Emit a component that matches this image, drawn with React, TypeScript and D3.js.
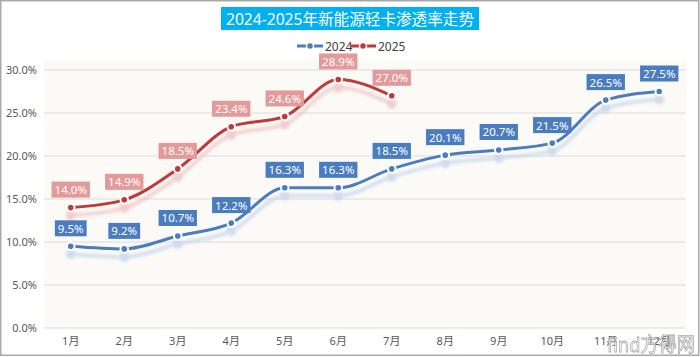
import React, { useEffect, useRef } from "react";
import * as d3 from "d3";

const months = ["1月", "2月", "3月", "4月", "5月", "6月", "7月", "8月", "9月", "10月", "11月", "12月"];
const series2024 = [9.5, 9.2, 10.7, 12.2, 16.3, 16.3, 18.5, 20.1, 20.7, 21.5, 26.5, 27.5];
const series2025 = [14.0, 14.9, 18.5, 23.4, 24.6, 28.9, 27.0];
const yTicks = [0, 5, 10, 15, 20, 25, 30];
const titleText = "2024-2025年新能源轻卡渗透率走势";
const seriesNames = ["2024", "2025"];

const W = 700;
const H = 357;
const FONT = "'Noto Sans', 'Noto Sans CJK SC', sans-serif";

export default function App() {
  const ref = useRef<SVGSVGElement | null>(null);

  useEffect(() => {
    const svg = d3.select(ref.current);
    svg.selectAll("*").remove();

    const left = 44, right = 686, top = 70, bottom = 328;
    const x = d3.scaleBand<string>().domain(months).range([left, right]);
    const y = d3.scaleLinear().domain([0, 30]).range([bottom, top]);
    const cx = (m: string) => (x(m) as number) + x.bandwidth() / 2;

    const defs = svg.append("defs");
    defs.append("filter").attr("id", "blur").attr("x", "-10%").attr("y", "-50%").attr("width", "120%").attr("height", "200%")
      .append("feGaussianBlur").attr("stdDeviation", 1.8);

    // outer background + border
    svg.append("rect").attr("x", 0.75).attr("y", 0.75).attr("width", W - 2).attr("height", H - 2.5)
      .attr("fill", "#ffffff").attr("stroke", "#a9a9a9").attr("stroke-width", 1.5);

    // plot background
    svg.append("rect").attr("x", left).attr("y", 60).attr("width", right - left).attr("height", bottom - 60)
      .attr("fill", "#fbfaf7");

    // grid
    svg.append("g").selectAll("line").data(yTicks).join("line")
      .attr("x1", left).attr("x2", right)
      .attr("y1", (d) => y(d)).attr("y2", (d) => y(d))
      .attr("stroke", "#dcdcdc").attr("stroke-width", 1);

    // y labels
    svg.append("g").selectAll("text").data(yTicks).join("text")
      .attr("x", 37).attr("y", (d) => y(d) + 4)
      .attr("text-anchor", "end").attr("font-size", 11).attr("font-family", FONT).attr("fill", "#595959")
      .text((d) => d.toFixed(1) + "%");

    // x labels
    svg.append("g").selectAll("text").data(months).join("text")
      .attr("x", (d) => cx(d)).attr("y", 345)
      .attr("text-anchor", "middle").attr("font-size", 11).attr("font-family", FONT).attr("fill", "#595959")
      .text((d) => d);

    // title
    svg.append("rect").attr("x", 221).attr("y", 7).attr("width", 258).attr("height", 23).attr("fill", "#00b0f0");
    svg.append("text").attr("x", 226).attr("y", 24.5)
      .attr("font-size", 16).attr("font-family", FONT).attr("fill", "#ffffff")
      .attr("textLength", 248).attr("lengthAdjust", "spacingAndGlyphs").text(titleText);

    const configs = [
      { name: seriesNames[0], data: series2024, color: "#4a7dbf", shadow: "#bfd0e8", label: "#4a7dbf" },
      { name: seriesNames[1], data: series2025, color: "#c0393b", shadow: "#edbcbc", label: "#e39a9a" },
    ];

    // legend
    const legendX = [297, 350];
    configs.forEach((c, i) => {
      const g = svg.append("g").attr("transform", `translate(${legendX[i]},46)`);
      g.append("line").attr("x1", 0).attr("x2", 26).attr("y1", 0).attr("y2", 0)
        .attr("stroke", c.color).attr("stroke-width", 3);
      g.append("circle").attr("cx", 13).attr("cy", 0).attr("r", 3.5).attr("fill", c.color)
        .attr("stroke", "#fff").attr("stroke-width", 1.5);
      g.append("text").attr("x", 28).attr("y", 4.5).attr("font-size", 12).attr("font-family", FONT)
        .attr("fill", "#404040").text(c.name);
    });

    const line = d3.line<number>()
      .x((_, i) => cx(months[i]))
      .y((d) => y(d))
      .curve(d3.curveMonotoneX);

    // shadows
    configs.forEach((c) => {
      const g = svg.append("g").attr("transform", "translate(0,8)").attr("filter", "url(#blur)").attr("opacity", 0.7);
      g.append("path").attr("d", line(c.data) as string).attr("fill", "none")
        .attr("stroke", c.shadow).attr("stroke-width", 3.5);
      g.selectAll("circle").data(c.data).join("circle")
        .attr("cx", (_, i) => cx(months[i])).attr("cy", (d) => y(d)).attr("r", 5).attr("fill", c.shadow);
    });

    // lines
    configs.forEach((c) => {
      svg.append("path").attr("d", line(c.data) as string).attr("fill", "none")
        .attr("stroke", c.color).attr("stroke-width", 3).attr("stroke-linecap", "round");
      svg.append("g").selectAll("circle").data(c.data).join("circle")
        .attr("cx", (_, i) => cx(months[i])).attr("cy", (d) => y(d)).attr("r", 3.8)
        .attr("fill", c.color).attr("stroke", "#ffffff").attr("stroke-width", 2);
    });

    // labels
    configs.forEach((c) => {
      c.data.forEach((v, i) => {
        const px = cx(months[i]);
        const py = y(v);
        const g = svg.append("g");
        const rect = g.append("rect");
        const t = g.append("text").attr("x", px).attr("y", py - 13.5).attr("text-anchor", "middle")
          .attr("font-size", 11.5).attr("font-family", FONT).attr("fill", "#ffffff").text(v.toFixed(1) + "%");
        const w = (t.node() as SVGTextElement).getComputedTextLength() + 6;
        rect.attr("x", px - w / 2).attr("y", py - 26).attr("width", w).attr("height", 16).attr("fill", c.label);
      });
    });

    // watermark
    svg.append("text").attr("x", 607).attr("y", 352).attr("font-size", 20).attr("font-family", FONT)
      .attr("fill", "#ffffff").attr("stroke", "#9a9a9a").attr("stroke-width", 0.8).attr("opacity", 0.85)
      .attr("textLength", 88).attr("lengthAdjust", "spacingAndGlyphs")
      .text("find方得网");
  }, []);

  return (
    <div style={{ position: "absolute", left: 0, top: 0 }}>
      <svg ref={ref} width={W} height={H} style={{ display: "block" }} />
    </div>
  );
}
